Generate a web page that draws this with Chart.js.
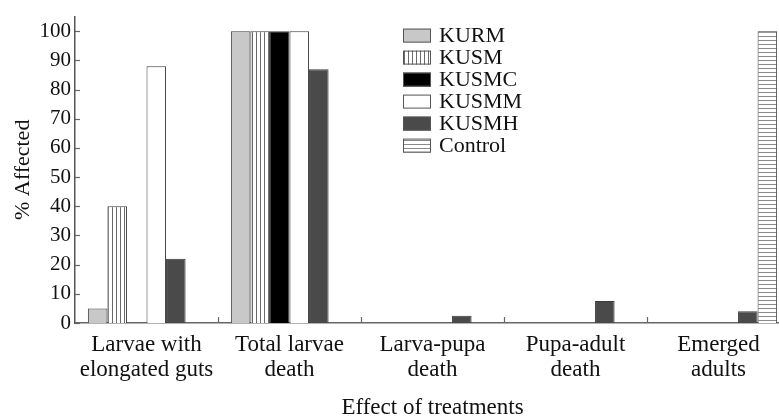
<!DOCTYPE html>
<html lang="en">
<head>
  <meta charset="UTF-8" />
  <title>Effect of treatments</title>
  <script src="https://cdn.jsdelivr.net/npm/chart.js"></script>
  <style>
    html, body { margin: 0; padding: 0; background: #fff; overflow: hidden; }
    #wrap { width: 790px; height: 417px; }
  </style>
</head>
<body>
  <div id="wrap"><canvas id="chart"></canvas></div>

  <script>
    // categories (x axis)
    const categories = [
      ['Larvae with', 'elongated guts'],
      ['Total larvae', 'death'],
      ['Larva-pupa', 'death'],
      ['Pupa-adult', 'death'],
      ['Emerged', 'adults']
    ];

    // % affected per treatment, one value per category
    const kurm    = [5, 100, 0, 0, 0];
    const kusm    = [40, 100, 0, 0, 0];
    const kusmc   = [0, 100, 0, 0, 0];
    const kusmm   = [88, 100, 0, 0, 0];
    const kusmh   = [22, 87, 2.5, 7.5, 4];
    const control = [0, 0, 0, 0, 100];

    const yTicks = [0, 10, 20, 30, 40, 50, 60, 70, 80, 90, 100];

    const serif = "'Liberation Serif', 'DejaVu Serif', serif";

    function stripes(vertical, period, color) {
      const c = document.createElement('canvas');
      c.width = period;
      c.height = period;
      const g = c.getContext('2d');
      g.fillStyle = '#fff';
      g.fillRect(0, 0, period, period);
      g.fillStyle = color;
      if (vertical) g.fillRect(0, 0, 1, period);
      else g.fillRect(0, 0, period, 1);
      return g.createPattern(c, 'repeat');
    }

    const vPattern = stripes(true, 4, '#6a6a6a');
    const hPattern = stripes(false, 4, '#8a8a8a');

    function ds(label, data, fill) {
      return {
        label: label,
        data: data,
        backgroundColor: fill,
        borderColor: '#3a3a3a',
        borderWidth: 1,
        borderSkipped: 'bottom'
      };
    }

    // legend drawn inside the plot, like the original figure
    const insideLegend = {
      id: 'insideLegend',
      afterDraw(chart) {
        const ctx = chart.ctx;
        const x0 = chart.chartArea.left + 328;
        const y0 = chart.chartArea.top + 19;
        ctx.save();
        ctx.font = '22px ' + serif;
        ctx.textBaseline = 'middle';
        chart.data.datasets.forEach((d, i) => {
          const y = y0 + i * 22;
          ctx.fillStyle = d.backgroundColor;
          ctx.fillRect(x0, y - 7, 28, 14);
          ctx.strokeStyle = '#555';
          ctx.lineWidth = 1;
          ctx.strokeRect(x0 + 0.5, y - 6.5, 27, 13);
          ctx.fillStyle = '#111';
          ctx.fillText(d.label, x0 + 36, y + 1);
        });
        ctx.restore();
      }
    };

    // small inward tick marks: between categories and at the y values
    const innerTicks = {
      id: 'innerTicks',
      afterDatasetsDraw(chart) {
        const xs = chart.scales.x;
        const ys = chart.scales.y;
        const ctx = chart.ctx;
        const { left, bottom } = chart.chartArea;
        ctx.save();
        ctx.strokeStyle = '#666';
        ctx.lineWidth = 1.2;
        for (let i = 1; i < categories.length; i++) {
          const x = Math.round(xs.getPixelForValue(i - 0.5)) + 0.5;
          ctx.beginPath();
          ctx.moveTo(x, bottom);
          ctx.lineTo(x, bottom - 6);
          ctx.stroke();
        }
        yTicks.forEach(v => {
          const y = Math.round(ys.getPixelForValue(v)) + 0.5;
          ctx.beginPath();
          ctx.moveTo(left, y);
          ctx.lineTo(left + 5, y);
          ctx.stroke();
        });
        ctx.restore();
      }
    };

    new Chart(document.getElementById('chart'), {
      type: 'bar',
      data: {
        labels: categories,
        datasets: [
          ds('KURM', kurm, '#c8c8c8'),
          ds('KUSM', kusm, vPattern),
          ds('KUSMC', kusmc, '#000'),
          ds('KUSMM', kusmm, '#fff'),
          ds('KUSMH', kusmh, '#4a4a4a'),
          ds('Control', control, hPattern)
        ]
      },
      options: {
        responsive: true,
        maintainAspectRatio: false,
        animation: false,
        datasets: {
          bar: { categoryPercentage: 0.82, barPercentage: 1 }
        },
        layout: { padding: { top: 11, right: 0, bottom: 0, left: 0 } },
        plugins: {
          legend: { display: false },
          tooltip: { enabled: false }
        },
        scales: {
          x: {
            grid: { display: false, drawTicks: false },
            border: { display: true, color: '#666', width: 1.5 },
            ticks: {
              color: '#111',
              font: { family: serif, size: 23, lineHeight: 1.1 },
              padding: 9,
              maxRotation: 0,
              autoSkip: false
            },
            title: {
              display: true,
              text: 'Effect of treatments',
              color: '#111',
              font: { family: serif, size: 23, lineHeight: 0.8 },
              padding: { top: 0, bottom: 0 }
            },
            afterFit(scale) { scale.height = 94; }
          },
          y: {
            min: 0,
            max: 105,
            afterBuildTicks(scale) {
              scale.ticks = yTicks.map(v => ({ value: v }));
            },
            grid: { display: false, drawTicks: false },
            border: { display: true, color: '#555', width: 1.5 },
            ticks: {
              color: '#111',
              font: { family: serif, size: 21 },
              padding: 4
            },
            title: {
              display: true,
              text: '% Affected',
              color: '#111',
              font: { family: serif, size: 22 },
              padding: { top: 10, bottom: 0 }
            },
            afterFit(scale) { scale.width = 75; }
          }
        }
      },
      plugins: [insideLegend, innerTicks]
    });
  </script>
</body>
</html>
